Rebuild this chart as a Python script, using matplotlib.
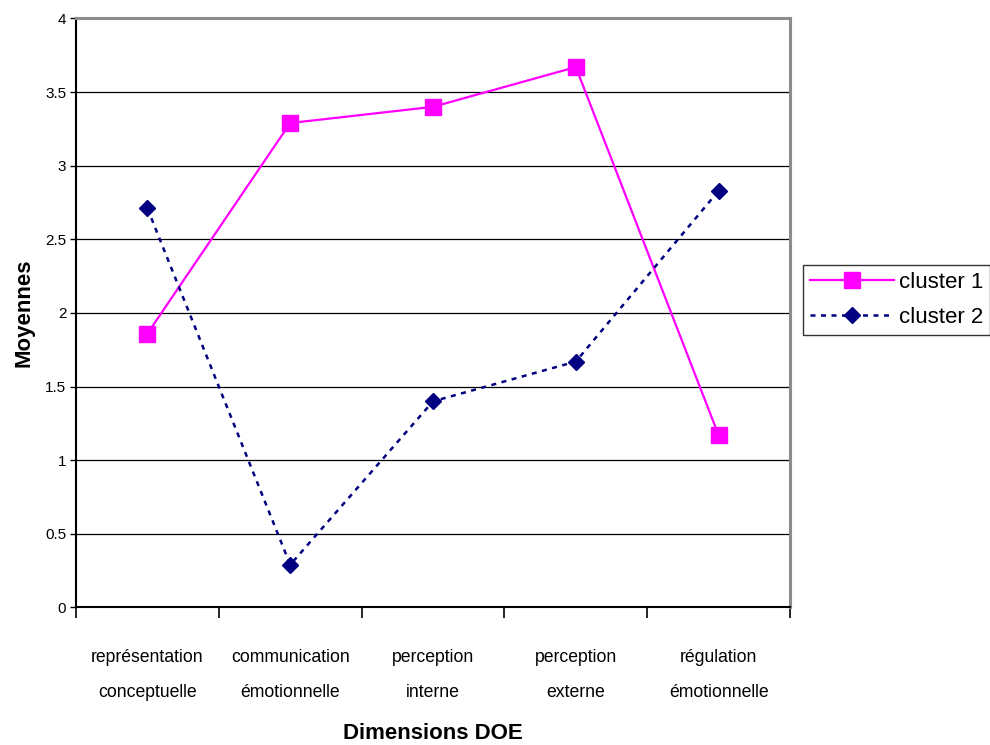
import numpy as np
import matplotlib
matplotlib.use("Agg")
import matplotlib.pyplot as plt

plt.rcParams['font.family'] = ['Liberation Sans', 'DejaVu Sans']

# data
categories = ["représentation\nconceptuelle", "communication\némotionnelle",
              "perception\ninterne", "perception\nexterne", "régulation\némotionnelle"]
cluster1 = [1.86, 3.29, 3.40, 3.67, 1.17]
cluster2 = [2.71, 0.29, 1.40, 1.67, 2.83]
yticks = [0, 0.5, 1, 1.5, 2, 2.5, 3, 3.5, 4]
ytick_labels = ["0", "0.5", "1", "1.5", "2", "2.5", "3", "3.5", "4"]

fig = plt.figure(figsize=(9.9, 7.45), dpi=100)
ax = fig.add_axes([0.0768, 0.1846, 0.7212, 0.7906])

x = np.arange(len(categories))

ax.set_axisbelow(True)
ax.yaxis.grid(True, color='black', lw=0.9)

ax.plot(x, cluster1, color='#FF00FF', lw=1.6, marker='s', markersize=11,
        markerfacecolor='#FF00FF', markeredgecolor='#FF00FF', label='cluster 1', zorder=3)
ax.plot(x, cluster2, color='#000080', lw=1.8, linestyle=(0, (2, 2.2)), marker='D',
        markersize=8.5, markerfacecolor='#000080', markeredgecolor='#000080',
        label='cluster 2', zorder=3)

ax.set_xlim(-0.5, len(categories) - 0.5)
ax.set_ylim(0, 4)
ax.set_yticks(yticks)
ax.set_yticklabels(ytick_labels, fontsize=11)
ax.tick_params(axis='y', length=4, width=1, pad=3)

ax.set_xticks(x)
ax.set_xticklabels(categories, fontsize=12.7, linespacing=2.35)
ax.tick_params(axis='x', which='major', length=0, pad=30)
ax.set_xticks(np.arange(-0.5, len(categories)), minor=True)
ax.tick_params(axis='x', which='minor', length=8, width=1.2)

for side in ['left', 'bottom']:
    ax.spines[side].set_color('black')
    ax.spines[side].set_linewidth(1.5)
for side in ['top', 'right']:
    ax.spines[side].set_color('#8c8c8c')
    ax.spines[side].set_linewidth(2.2)

ax.set_xlabel('Dimensions DOE', fontsize=16, fontweight='bold', labelpad=16)
ax.set_ylabel('Moyennes', fontsize=16, fontweight='bold', labelpad=8)

leg = ax.legend(loc='center left', bbox_to_anchor=((803 - 76) / 714.0, 0.522),
                fontsize=16, frameon=True, fancybox=False, edgecolor='black',
                handlelength=3.8, borderpad=0.3, labelspacing=0.65, handletextpad=0.2,
                borderaxespad=0, markerscale=1.0)
leg.get_frame().set_linewidth(1.0)

fig.savefig('out.png', dpi=100)
